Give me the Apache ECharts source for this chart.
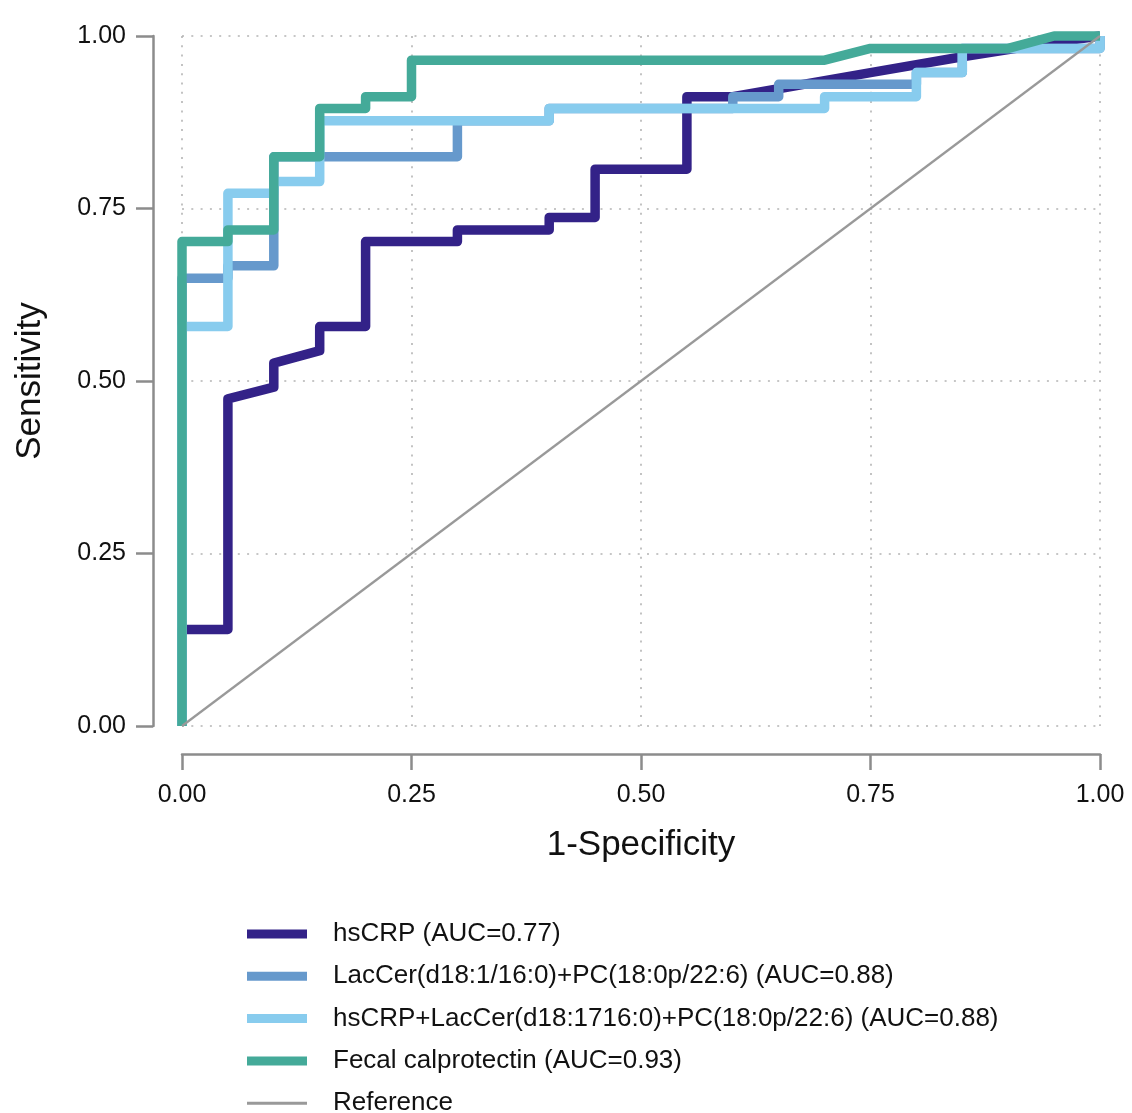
<!DOCTYPE html>
<html>
<head>
<meta charset="utf-8">
<script src="https://cdn.jsdelivr.net/npm/echarts@6/dist/echarts.min.js"></script>
<style>
  html, body { margin: 0; padding: 0; background: #ffffff; }
  #chart { width: 1132px; height: 1113px; }
</style>
</head>
<body>
<div id="chart"></div>
<script>
// ---- data ----
const tickValues = [0, 0.25, 0.5, 0.75, 1];

const seriesNames = [
  'hsCRP (AUC=0.77)',
  'LacCer(d18:1/16:0)+PC(18:0p/22:6) (AUC=0.88)',
  'hsCRP+LacCer(d18:1716:0)+PC(18:0p/22:6) (AUC=0.88)',
  'Fecal calprotectin (AUC=0.93)',
  'Reference'
];

const hsCRP_fpr = [0, 0, 0.05, 0.05, 0.10, 0.10, 0.15, 0.15, 0.20, 0.20, 0.30, 0.30, 0.40, 0.40, 0.45, 0.45, 0.55, 0.55, 0.60, 0.75, 0.85, 0.95, 1.00];
const hsCRP_tpr = [0, 0.140, 0.140, 0.474, 0.491, 0.526, 0.544, 0.579, 0.579, 0.702, 0.702, 0.719, 0.719, 0.737, 0.737, 0.807, 0.807, 0.912, 0.912, 0.947, 0.970, 0.991, 1.00];

const lac_fpr = [0, 0, 0.05, 0.05, 0.10, 0.10, 0.30, 0.30, 0.40, 0.40, 0.60, 0.60, 0.65, 0.65, 0.80, 0.80, 0.85, 0.85, 1.00, 1.00];
const lac_tpr = [0, 0.649, 0.649, 0.667, 0.667, 0.825, 0.825, 0.877, 0.877, 0.895, 0.895, 0.912, 0.912, 0.930, 0.930, 0.947, 0.947, 0.982, 0.982, 1.00];

const combo_fpr = [0, 0, 0.05, 0.05, 0.10, 0.10, 0.15, 0.15, 0.40, 0.40, 0.70, 0.70, 0.80, 0.80, 0.85, 0.85, 1.00, 1.00];
const combo_tpr = [0, 0.579, 0.579, 0.772, 0.772, 0.789, 0.789, 0.877, 0.877, 0.895, 0.895, 0.912, 0.912, 0.947, 0.947, 0.982, 0.982, 1.00];

const fcp_fpr = [0, 0, 0.05, 0.05, 0.10, 0.10, 0.15, 0.15, 0.20, 0.20, 0.25, 0.25, 0.70, 0.75, 0.90, 0.95, 1.00];
const fcp_tpr = [0, 0.702, 0.702, 0.719, 0.719, 0.825, 0.825, 0.895, 0.895, 0.912, 0.912, 0.965, 0.965, 0.982, 0.982, 1.00, 1.00];

const ref_fpr = [0, 1];
const ref_tpr = [0, 1];

const colors = ['#332288', '#6699CC', '#88CCEE', '#44AA99', '#999999'];

// ---- build ----
function pairs(xs, ys) { return xs.map((x, i) => [x, ys[i]]); }

const FONT = '"Liberation Sans", Arial, sans-serif';
const axisGray = '#8c8c8c';
const gridLine = { show: true, lineStyle: { color: '#b4b4b4', width: 1.6, type: [2, 7.3] } };

function rocSeries(name, xs, ys, color, width) {
  return {
    name: name,
    type: 'line',
    data: pairs(xs, ys),
    symbol: 'none',
    showSymbol: false,
    smooth: false,
    clip: false,
    color: color,
    itemStyle: { color: color },
    lineStyle: { color: color, width: width, cap: 'butt', join: 'round' },
    emphasis: { disabled: true },
    animation: false
  };
}

const chart = echarts.init(document.getElementById('chart'), null, { renderer: 'canvas' });

const legendData = seriesNames.map((n, i) => ({
  name: n,
  icon: i < 4 ? 'rect' : 'path://M0,0H60V3H0Z',
  itemStyle: { color: colors[i] }
}));

const option = {
  backgroundColor: '#ffffff',
  animation: false,
  textStyle: { fontFamily: FONT },
  grid: { left: 182, right: 32, top: 36, bottom: 387, containLabel: false },
  xAxis: {
    type: 'value',
    min: tickValues[0],
    max: tickValues[tickValues.length - 1],
    interval: 0.25,
    offset: 28,
    name: '1-Specificity',
    nameLocation: 'middle',
    nameGap: 74,
    nameTextStyle: { fontSize: 35, color: '#111', fontFamily: FONT },
    axisLine: { show: true, onZero: false, lineStyle: { color: axisGray, width: 2.5 } },
    axisTick: { show: true, length: 16, lineStyle: { color: axisGray, width: 2.5 } },
    axisLabel: { fontSize: 25, color: '#111', margin: 29, fontFamily: FONT, formatter: v => v.toFixed(2) },
    splitLine: gridLine
  },
  yAxis: {
    type: 'value',
    min: tickValues[0],
    max: tickValues[tickValues.length - 1],
    interval: 0.25,
    offset: 29,
    name: 'Sensitivity',
    nameLocation: 'middle',
    nameGap: 105,
    nameTextStyle: { fontSize: 35, color: '#111', fontFamily: FONT },
    axisLine: { show: true, onZero: false, lineStyle: { color: axisGray, width: 2.5 } },
    axisTick: { show: true, length: 17, lineStyle: { color: axisGray, width: 2.5 } },
    axisLabel: { fontSize: 25, color: '#111', margin: 27, fontFamily: FONT, formatter: v => v.toFixed(2) },
    splitLine: gridLine
  },
  legend: {
    orient: 'vertical',
    left: 247,
    top: 921,
    width: 860,
    height: 200,
    padding: 0,
    itemWidth: 60,
    itemHeight: 9,
    itemGap: 16.3,
    symbolKeepAspect: true,
    data: legendData,
    textStyle: { fontSize: 26, color: '#111', padding: [0, 0, 0, 21], fontFamily: FONT },
    selectedMode: false
  },
  series: [
    rocSeries(seriesNames[0], hsCRP_fpr, hsCRP_tpr, colors[0], 9.5),
    rocSeries(seriesNames[1], lac_fpr, lac_tpr, colors[1], 9.5),
    rocSeries(seriesNames[2], combo_fpr, combo_tpr, colors[2], 9.5),
    rocSeries(seriesNames[3], fcp_fpr, fcp_tpr, colors[3], 9.5),
    rocSeries(seriesNames[4], ref_fpr, ref_tpr, colors[4], 2.2)
  ]
};

chart.setOption(option);
</script>
</body>
</html>
